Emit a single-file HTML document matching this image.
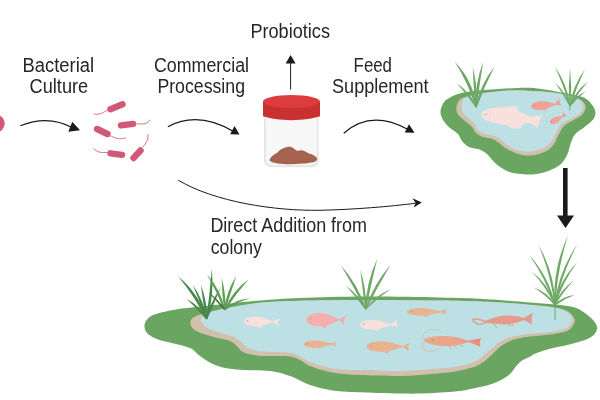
<!DOCTYPE html>
<html><head><meta charset="utf-8"><title>Probiotics</title>
<style>html,body{margin:0;padding:0;background:#fff;}svg{display:block;will-change:transform}</style></head>
<body><svg width="600" height="400" viewBox="0 0 600 400">
<path d="M440.5,111.0C440.7,108.0 442.4,104.2 444.0,102.0C445.6,99.8 447.8,98.8 450.0,97.5C452.2,96.2 454.5,95.2 457.0,94.3C459.5,93.4 461.2,92.9 465.0,92.2C468.8,91.5 475.0,90.8 480.0,90.3C485.0,89.8 487.5,89.6 495.0,89.2C502.5,88.8 517.5,87.8 525.0,87.7C532.5,87.6 534.2,88.0 540.0,88.8C545.8,89.5 553.7,91.1 559.5,92.2C565.3,93.3 570.9,94.3 575.0,95.2C579.1,96.1 581.6,96.4 584.3,97.8C587.0,99.2 589.2,101.2 591.0,103.5C592.8,105.8 594.9,108.8 595.3,111.4C595.7,114.0 595.1,116.7 593.3,119.3C591.5,121.9 587.3,124.8 584.3,127.2C581.3,129.6 577.5,131.3 575.3,133.9C573.0,136.5 572.1,139.5 570.8,142.9C569.5,146.3 569.1,150.6 567.4,154.2C565.7,157.8 563.9,161.5 560.7,164.3C557.5,167.1 553.0,169.3 548.3,171.0C543.6,172.7 538.0,174.0 532.5,174.4C527.0,174.8 519.6,173.9 515.0,173.2C510.4,172.5 508.3,171.7 505.0,170.0C501.7,168.3 498.0,165.7 495.0,163.0C492.0,160.3 489.7,156.3 487.0,154.0C484.3,151.7 482.0,150.5 479.0,149.3C476.0,148.1 471.8,148.4 469.0,147.0C466.2,145.6 463.8,143.2 462.0,141.0C460.2,138.8 460.0,136.2 458.0,134.0C456.0,131.8 452.5,130.3 450.0,128.0C447.5,125.7 444.6,122.8 443.0,120.0C441.4,117.2 440.3,114.0 440.5,111.0Z" fill="#6BA562"/>
<path d="M460.0,99.5C461.7,97.9 463.7,97.5 467.0,96.5C470.3,95.5 472.8,94.5 480.0,93.5C487.2,92.5 500.0,90.7 510.0,90.3C520.0,89.9 531.7,90.8 540.0,91.3C548.3,91.8 554.2,92.5 560.0,93.5C565.8,94.5 571.2,95.7 575.0,97.0C578.8,98.3 580.7,99.5 582.5,101.3C584.3,103.0 585.7,105.2 585.6,107.5C585.5,109.8 584.1,112.6 582.0,114.8C579.9,117.0 576.0,118.5 573.0,120.4C570.0,122.3 566.4,123.6 564.0,126.0C561.6,128.4 560.1,132.0 558.4,135.0C556.7,138.0 556.1,141.3 554.0,144.0C551.9,146.7 549.6,149.3 546.0,151.2C542.4,153.1 537.0,154.8 532.5,155.3C528.0,155.8 523.2,155.2 519.0,154.2C514.8,153.1 510.3,150.9 507.0,149.0C503.7,147.1 501.3,144.6 499.0,143.0C496.7,141.4 495.7,140.2 493.0,139.2C490.3,138.2 485.8,138.0 483.0,137.0C480.2,136.0 477.8,134.7 476.0,133.0C474.2,131.3 473.8,129.0 472.0,127.0C470.2,125.0 467.4,123.2 465.0,121.0C462.6,118.8 459.1,116.5 457.7,114.0C456.3,111.5 456.2,108.4 456.6,106.0C457.0,103.6 458.3,101.1 460.0,99.5Z" fill="#D1C0AD"/>
<path d="M464.0,98.5C465.3,97.2 467.3,97.0 470.0,96.3C472.7,95.5 473.3,95.0 480.0,94.0C486.7,93.0 500.0,91.0 510.0,90.6C520.0,90.2 531.7,91.1 540.0,91.6C548.3,92.1 554.3,92.8 560.0,93.8C565.7,94.8 570.7,96.2 574.0,97.3C577.3,98.4 578.2,98.9 579.8,100.5C581.3,102.1 583.3,104.7 583.3,106.9C583.3,109.1 581.9,111.6 579.8,113.6C577.7,115.6 573.8,117.1 570.8,118.8C567.8,120.5 564.2,121.5 561.8,123.8C559.4,126.1 557.9,129.9 556.2,132.8C554.5,135.7 553.8,138.8 551.7,141.3C549.6,143.8 547.0,146.3 543.8,148.0C540.6,149.7 536.6,150.7 532.5,151.2C528.4,151.7 523.1,151.7 519.0,150.8C514.9,149.9 511.0,147.4 508.0,145.6C505.0,143.8 503.2,141.6 501.0,140.0C498.8,138.4 497.7,137.0 495.0,136.0C492.3,135.0 487.8,135.0 485.0,134.0C482.2,133.0 479.8,131.8 478.0,130.0C476.2,128.2 475.6,125.0 474.0,123.0C472.4,121.0 470.2,119.8 468.3,118.0C466.4,116.2 463.6,114.3 462.5,112.0C461.4,109.7 461.8,106.2 462.0,104.0C462.2,101.8 462.7,99.8 464.0,98.5Z" fill="#BDE0E4"/>
<path d="M481.2,115.6 C481.5,112 485,109.5 490,108.5 C495,107.5 501,107.3 506,107.7 C511,108.2 515,109.5 518.7,111.2 C523,113 527.5,115 531.2,116.9 L543,115 Q538.8,120.6 538,127.7 L528.7,122.5 C525.5,123.5 522,124.1 518.7,124.4 C514.5,124.9 510,125.1 506,125 C502,124.8 497.5,124 493.7,123 C490.5,122 487.5,120.8 485,119.4 C483,118.2 481.3,117 481.2,115.6Z" fill="#F8E1DC"/>
<path d="M505,107.9 C507,106.8 509.5,106.3 511.2,106.2 C513.5,106 516,106.4 518,106.9 L517.7,111Z" fill="#F8E1DC"/>
<path d="M506.5,124.8 C508.5,127 510.5,128.2 512.5,128.5 C515.5,128.8 518.5,128.4 521.2,127.7 L522.4,123.8Z" fill="#F8E1DC"/>
<circle cx="486" cy="114.4" r="0.7" fill="#B07C78"/>
<path d="M489.8,108.8 Q492.3,115 488.8,121.6" stroke="#EBCDC8" stroke-width="0.5" fill="none"/>
<g transform="rotate(-5 543.3 105.4)"><path d="M531.3,105.4 C531.3,102.8 535.6,101.1 541.4,101.1 C547.1,101.2 551.7,104.1 555.3,104.7 L560.7,98.8 Q558.0,102.8 561.7,106.8 L555.3,106.1 C551.7,106.7 547.1,109.6 541.4,109.7 C535.6,109.7 531.3,108.0 531.3,105.4Z" fill="#F0A294"/><path d="M541.9,109.3 l2.9,1.7 l2.4,-2.4Z" fill="#F0A294"/><circle cx="534.4" cy="104.8" r="0.55" fill="#c07060"/></g>
<g transform="rotate(-27 556.15 119.8)"><path d="M549.4,119.8 C549.4,117.9 551.8,116.7 555.1,116.7 C558.3,116.8 560.9,118.9 562.9,119.1 L567.3,115.6 Q565.1,118.8 568.1,122.0 L562.9,120.5 C560.9,120.7 558.3,122.8 555.1,122.9 C551.8,122.9 549.4,121.7 549.4,119.8Z" fill="#F0A294"/><path d="M555.3,122.6 l1.6,1.2 l1.4,-1.7Z" fill="#F0A294"/><circle cx="551.2" cy="119.3" r="0.55" fill="#c07060"/></g>
<path d="M476.7,107.0Q473.2,80.7 454.6,61.5Q468.3,83.0 475.7,107.4Z" fill="#6EA866"/>
<path d="M476.6,106.9Q470.1,92.2 456.7,83.3Q467.3,94.5 475.8,107.5Z" fill="#6EA866"/>
<path d="M476.7,107.2Q477.9,86.7 472.7,66.9Q473.3,87.2 475.7,107.2Z" fill="#6EA866"/>
<path d="M476.7,107.3Q479.4,84.4 483.2,61.7Q474.7,83.7 475.7,107.1Z" fill="#6EA866"/>
<path d="M476.7,107.4Q484.4,86.3 494.7,66.3Q480.2,84.4 475.7,107.0Z" fill="#6EA866"/>
<path d="M570.5,105.8Q567.2,84.5 554.8,66.6Q563.8,85.8 569.5,106.2Z" fill="#6EA866"/>
<path d="M570.4,105.7Q565.4,92.4 555.0,82.6Q563.1,93.9 569.6,106.3Z" fill="#6EA866"/>
<path d="M570.5,106.0Q572.1,86.7 570.0,67.4Q567.9,86.7 569.5,106.0Z" fill="#6EA866"/>
<path d="M570.5,106.2Q576.3,87.0 585.0,69.0Q573.0,85.7 569.5,105.8Z" fill="#6EA866"/>
<path d="M570.4,106.3Q577.9,92.9 588.0,81.5Q575.4,91.1 569.6,105.7Z" fill="#6EA866"/>
<path d="M570.3,106.4Q577.2,97.8 586.0,91.3Q575.5,95.9 569.7,105.6Z" fill="#6EA866"/>
<path d="M570,104 L569.7,110.5" stroke="#6EA866" stroke-width="0.9"/>
<path d="M144.5,325.0C144.7,322.6 146.1,320.3 148.0,318.5C149.9,316.7 151.3,315.5 156.0,314.0C160.7,312.5 168.7,310.8 176.0,309.5C183.3,308.2 191.0,307.5 200.0,306.5C209.0,305.5 220.0,304.5 230.0,303.5C240.0,302.5 248.3,301.4 260.0,300.5C271.7,299.6 282.5,298.6 300.0,298.0C317.5,297.4 341.7,296.7 365.0,296.6C388.3,296.5 420.8,297.1 440.0,297.5C459.2,297.9 469.2,298.2 480.0,298.7C490.8,299.2 496.7,299.9 505.0,300.5C513.3,301.1 521.7,301.8 530.0,302.5C538.3,303.2 547.5,303.7 555.0,304.5C562.5,305.3 569.6,305.8 575.0,307.5C580.4,309.2 584.2,312.5 587.5,315.0C590.8,317.5 593.4,320.2 595.0,322.5C596.6,324.8 597.2,326.6 597.0,328.7C596.8,330.8 595.7,333.1 593.7,335.0C591.7,336.9 589.4,338.3 585.0,340.0C580.6,341.7 573.3,343.6 567.5,345.0C561.7,346.4 555.4,347.2 550.0,348.7C544.6,350.1 538.3,352.4 535.0,353.7C531.7,355.0 532.2,355.6 530.0,356.7C527.8,357.8 524.3,358.9 522.0,360.5C519.7,362.1 518.0,364.2 516.0,366.5C514.0,368.8 512.5,371.8 510.0,374.0C507.5,376.2 503.9,378.4 501.0,380.0C498.1,381.6 496.0,382.5 492.5,383.7C489.0,384.9 485.4,385.8 480.0,387.0C474.6,388.2 466.7,390.1 460.0,391.0C453.3,391.9 446.7,392.0 440.0,392.4C433.3,392.8 426.7,393.4 420.0,393.6C413.3,393.8 406.7,393.7 400.0,393.6C393.3,393.5 388.3,393.3 380.0,393.0C371.7,392.7 358.3,392.5 350.0,392.0C341.7,391.5 336.7,391.2 330.0,390.0C323.3,388.8 316.7,387.3 310.0,385.0C303.3,382.7 296.7,378.3 290.0,376.0C283.3,373.7 279.0,372.1 270.0,371.0C261.0,369.9 245.2,370.5 236.0,369.5C226.8,368.5 221.0,367.2 215.0,365.0C209.0,362.8 204.0,358.8 200.0,356.0C196.0,353.2 195.0,350.5 191.0,348.5C187.0,346.5 181.5,345.5 176.0,344.0C170.5,342.5 162.8,341.3 158.0,339.5C153.2,337.7 149.2,335.4 147.0,333.0C144.8,330.6 144.3,327.4 144.5,325.0Z" fill="#6BA562"/>
<path d="M196.5,315.8C202.1,313.4 213.4,310.9 224.0,308.7C234.6,306.5 247.3,304.1 260.0,302.8C272.7,301.5 282.5,301.3 300.0,300.8C317.5,300.3 341.7,300.0 365.0,300.0C388.3,300.0 420.8,300.3 440.0,300.6C459.2,300.9 469.2,301.2 480.0,301.6C490.8,302.0 496.7,302.3 505.0,302.9C513.3,303.4 521.7,304.1 530.0,304.9C538.3,305.7 548.7,306.5 555.0,307.6C561.3,308.7 564.9,309.9 568.0,311.5C571.1,313.1 572.6,315.7 573.7,317.5C574.8,319.3 575.3,320.4 574.5,322.5C573.7,324.6 572.0,328.1 568.7,330.0C565.5,331.9 561.5,332.6 555.0,333.7C548.5,334.8 535.5,335.8 530.0,336.5C524.5,337.2 524.8,337.1 522.0,337.7C519.2,338.2 516.0,338.8 513.0,339.8C510.0,340.9 506.8,342.3 504.0,344.0C501.2,345.7 499.0,347.8 496.5,350.0C494.0,352.2 492.0,355.0 489.0,357.5C486.0,360.0 482.5,363.0 478.5,365.0C474.5,367.0 469.8,368.3 465.0,369.5C460.2,370.7 454.2,371.7 450.0,372.3C445.8,372.9 445.0,372.8 440.0,373.2C435.0,373.6 426.7,374.5 420.0,375.0C413.3,375.5 406.7,375.9 400.0,376.0C393.3,376.1 388.3,375.9 380.0,375.6C371.7,375.3 358.3,375.0 350.0,374.4C341.7,373.8 336.7,373.4 330.0,372.0C323.3,370.6 315.0,368.0 310.0,366.0C305.0,364.0 303.3,361.6 300.0,360.0C296.7,358.4 295.0,357.1 290.0,356.4C285.0,355.7 275.5,356.1 270.0,356.0C264.5,355.9 261.5,356.2 257.0,355.5C252.5,354.8 246.5,353.8 243.0,352.0C239.5,350.2 238.4,346.9 236.0,345.0C233.6,343.1 232.5,341.9 228.5,340.5C224.5,339.1 217.5,338.2 212.0,336.5C206.5,334.8 199.1,332.8 195.5,330.5C191.9,328.2 190.3,325.4 190.5,323.0C190.7,320.6 190.9,318.2 196.5,315.8Z" fill="#D1C0AD"/>
<path d="M202.0,316.5C205.2,313.6 214.3,310.9 224.0,308.6C233.7,306.3 247.3,304.0 260.0,302.7C272.7,301.4 282.5,301.2 300.0,300.7C317.5,300.2 341.7,299.9 365.0,299.9C388.3,299.9 420.8,300.2 440.0,300.5C459.2,300.8 469.2,301.1 480.0,301.5C490.8,301.9 496.7,302.2 505.0,302.8C513.3,303.4 521.7,304.0 530.0,304.8C538.3,305.6 548.8,306.4 555.0,307.7C561.2,309.0 564.7,310.4 567.5,312.5C570.3,314.6 572.0,317.5 572.0,320.0C572.0,322.5 570.3,325.6 567.5,327.5C564.7,329.4 561.2,330.1 555.0,331.2C548.8,332.2 535.5,333.2 530.0,333.8C524.5,334.4 525.3,334.1 522.0,334.7C518.7,335.3 513.5,336.1 510.0,337.2C506.5,338.2 503.8,339.4 501.0,341.0C498.2,342.6 496.0,344.9 493.5,347.0C491.0,349.1 488.8,351.4 486.0,353.7C483.2,355.9 480.5,358.6 477.0,360.5C473.5,362.4 469.5,363.8 465.0,365.0C460.5,366.2 454.2,366.9 450.0,367.5C445.8,368.1 445.0,368.1 440.0,368.5C435.0,368.9 426.7,369.6 420.0,370.0C413.3,370.4 406.7,370.9 400.0,371.0C393.3,371.1 388.3,370.6 380.0,370.4C371.7,370.2 358.3,370.4 350.0,370.0C341.7,369.6 336.7,369.3 330.0,368.0C323.3,366.7 315.0,363.9 310.0,362.0C305.0,360.1 303.3,358.0 300.0,356.5C296.7,355.0 295.0,353.8 290.0,353.0C285.0,352.2 275.3,352.3 270.0,352.0C264.7,351.7 261.8,351.8 258.0,351.0C254.2,350.2 250.0,349.2 247.0,347.5C244.0,345.8 242.3,342.8 240.0,341.0C237.7,339.2 236.7,338.0 233.0,336.5C229.3,335.0 222.8,333.8 218.0,332.0C213.2,330.2 207.2,328.6 204.5,326.0C201.8,323.4 198.8,319.4 202.0,316.5Z" fill="#BDE0E4"/>
<g><path d="M244.0,321.6 C244.0,318.6 249.2,316.6 256.2,316.6 C263.1,316.8 268.6,320.1 273.0,320.9 L280.4,318.4 Q276.3,322.7 279.6,327.0 L273.0,322.3 C268.6,323.1 263.1,326.5 256.2,326.6 C249.2,326.6 244.0,324.6 244.0,321.6Z" fill="#F8E1DC"/><path d="M256.8,326.1 l3.5,2.0 l2.9,-2.8Z" fill="#F8E1DC"/><circle cx="247.8" cy="320.9" r="0.55" fill="#9a6a5a"/></g>
<g><path d="M306.4,319.8 C306.4,315.8 312.3,313.1 320.3,313.1 C328.2,313.3 334.4,317.8 339.4,319.1 L347.0,315.2 Q342.1,320.7 344.8,326.2 L339.4,320.5 C334.4,321.8 328.2,326.3 320.3,326.5 C312.3,326.5 306.4,323.8 306.4,319.8Z" fill="#F5AFAD"/><path d="M320.9,325.8 l4.0,2.7 l3.3,-3.7Z" fill="#F5AFAD"/><circle cx="310.7" cy="318.8" r="0.55" fill="#9a6a5a"/></g>
<g><path d="M360.0,324.8 C360.0,322.0 365.6,320.1 373.0,320.1 C380.5,320.2 386.4,323.4 391.0,324.1 L398.0,318.8 Q394.5,322.9 398.6,327.0 L391.0,325.5 C386.4,326.2 380.5,329.4 373.0,329.5 C365.6,329.5 360.0,327.6 360.0,324.8Z" fill="#F8E1DC"/><path d="M373.6,329.0 l3.7,1.9 l3.1,-2.6Z" fill="#F8E1DC"/><circle cx="364.0" cy="324.1" r="0.55" fill="#9a6a5a"/></g>
<g><path d="M407.0,311.8 C407.0,309.5 413.1,307.9 421.2,307.9 C429.3,308.0 435.7,310.6 440.8,311.1 L447.6,308.4 Q443.8,311.5 446.8,314.6 L440.8,312.5 C435.7,313.0 429.3,315.6 421.2,315.7 C413.1,315.7 407.0,314.1 407.0,311.8Z" fill="#E8B391"/><path d="M421.9,315.3 l4.1,1.6 l3.4,-2.1Z" fill="#E8B391"/><circle cx="411.4" cy="311.2" r="0.55" fill="#9a6a5a"/></g>
<g><path d="M303.6,344.2 C303.6,342.0 308.8,340.6 315.8,340.6 C322.7,340.7 328.2,343.1 332.6,343.5 L336.6,340.8 Q334.3,343.6 336.0,346.4 L332.6,344.9 C328.2,345.3 322.7,347.7 315.8,347.8 C308.8,347.8 303.6,346.4 303.6,344.2Z" fill="#E8B391"/><path d="M316.4,347.4 l3.5,1.4 l2.9,-2.0Z" fill="#E8B391"/><circle cx="307.4" cy="343.7" r="0.55" fill="#9a6a5a"/></g>
<g><path d="M366.4,346.6 C366.4,343.4 373.0,341.3 381.9,341.3 C390.7,341.5 397.7,345.0 403.2,345.9 L410.8,342.2 Q406.2,346.7 409.2,351.2 L403.2,347.3 C397.7,348.2 390.7,351.7 381.9,351.9 C373.0,351.9 366.4,349.8 366.4,346.6Z" fill="#E8B391"/><path d="M382.6,351.4 l4.4,2.1 l3.7,-2.9Z" fill="#E8B391"/><circle cx="371.2" cy="345.8" r="0.55" fill="#9a6a5a"/></g>
<defs><linearGradient id="shg" x1="423" y1="0" x2="481" y2="0" gradientUnits="userSpaceOnUse"><stop offset="0" stop-color="#E9A88C"/><stop offset="0.7" stop-color="#E9A489"/><stop offset="1" stop-color="#E5897A"/></linearGradient></defs>
<path d="M423.3,339.6 C425,338.3 428,337.5 431,337 C436,336.2 441,335.9 444.5,336 C450,336.2 454,336.5 458,337.5 C462,338.5 465.5,339.8 468.5,340.5 L481.3,338.2 Q478.5,342.5 480.6,346.8 L468.5,342.1 C465,343.5 460,344.8 455,345.4 C450,346 446,346.2 441.7,346 C437,345.7 432,344.6 428.3,343.3 C425.5,342.3 423.8,341 423.3,339.6Z" fill="url(#shg)"/>
<path d="M449,345.5 L451.3,349.3 M454.3,345.3 L457.4,348.7 M459,344.5 L463,346.7" stroke="#E9A68A" stroke-width="1" fill="none"/>
<path d="M423.6,339.2 C422,334 425.5,330 430,329.6 C435,329.2 440,330.5 442.4,332.8" stroke="#E9A68A" stroke-width="0.45" fill="none"/>
<path d="M423.3,342 C420,344.5 421.5,349 425,350.5 C430,352.3 437,351.5 442.4,346.6" stroke="#E9A68A" stroke-width="0.45" fill="none"/>
<path d="M424.3,342.6 C422.5,346 424,349.5 427,350.6" stroke="#E9A68A" stroke-width="0.4" fill="none"/>
<circle cx="432.3" cy="340.3" r="0.6" fill="#A8604E"/>
<path d="M438.5,337.3 Q440.6,340.5 438.8,344.6" stroke="#DD927A" stroke-width="0.4" fill="none"/>
<path d="M485,321.3 C490,319.5 497,316 505,315.6 C512,315.2 519,316.3 523.7,318 L533,312.7 Q530.5,318.5 532.3,324.4 L523.7,320 C519,322.5 512,324.5 505,324.4 C497,324.3 490,323.5 485,322.6Z" fill="#E49B8B"/>
<path d="M486,321.5 C482,319.8 478,318.6 474.5,319 C472,319.3 472,321 474,321.6 M486,322.3 C483.5,323.5 481,324.6 478.5,324.3 C476,324 475,322.5 474.5,321.6" stroke="#E49B8B" stroke-width="1.4" fill="none" stroke-linecap="round"/>
<path d="M493.7,324 L497,328 M509,324 L510.3,326.7 M511.7,324 L513.3,326.4" stroke="#E49B8B" stroke-width="1" fill="none"/>
<path d="M207.1,318.7Q198.7,293.6 178.3,276.6Q194.5,296.4 206.3,319.3Z" fill="#47874A"/>
<path d="M207.1,318.6Q199.3,306.0 186.3,298.6Q196.8,308.5 206.3,319.4Z" fill="#47874A"/>
<path d="M207.2,318.8Q203.5,300.3 192.7,284.8Q199.9,301.8 206.2,319.2Z" fill="#47874A"/>
<path d="M207.2,318.9Q207.0,301.3 201.0,284.7Q202.7,302.0 206.2,319.1Z" fill="#47874A"/>
<path d="M207.2,319.1Q214.5,294.5 211.8,268.9Q209.9,294.0 206.2,318.9Z" fill="#47874A"/>
<path d="M207.2,319.2Q214.0,303.5 220.7,287.8Q210.4,301.9 206.2,318.8Z" fill="#47874A"/>
<path d="M225.1,309.5Q220.6,289.6 206.9,274.3Q216.5,291.7 224.3,309.9Z" fill="#5E9E58"/>
<path d="M225.2,309.7Q226.2,293.5 221.6,277.9Q221.9,293.9 224.2,309.7Z" fill="#5E9E58"/>
<path d="M225.2,309.9Q230.8,292.8 236.4,275.8Q226.4,291.3 224.2,309.5Z" fill="#5E9E58"/>
<path d="M225.1,310.0Q236.2,293.9 248.8,279.0Q232.5,291.0 224.3,309.4Z" fill="#5E9E58"/>
<path d="M224.9,310.2Q236.7,301.7 250.7,298.2Q235.4,298.7 224.5,309.2Z" fill="#5E9E58"/>
<path d="M225.1,309.4Q218.6,299.4 208.8,292.5Q216.5,301.4 224.3,310.0Z" fill="#3C6E3A"/>
<path d="M366.1,309.0Q357.8,284.5 340.7,265.1Q353.7,286.8 365.3,309.4Z" fill="#6EA866"/>
<path d="M366.1,308.9Q358.8,294.9 345.9,285.7Q356.3,297.0 365.3,309.5Z" fill="#6EA866"/>
<path d="M366.2,309.1Q366.5,289.0 360.3,269.7Q362.6,289.5 365.2,309.3Z" fill="#6EA866"/>
<path d="M366.2,309.3Q371.0,283.7 377.3,258.4Q366.1,282.6 365.2,309.1Z" fill="#6EA866"/>
<path d="M366.1,309.4Q377.7,286.6 390.8,264.6Q373.6,284.3 365.3,309.0Z" fill="#6EA866"/>
<path d="M366.0,309.6Q377.5,297.9 391.2,288.9Q375.5,295.3 365.4,308.8Z" fill="#6EA866"/>
<path d="M555.4,304.8Q548.6,276.5 529.2,254.7Q545.4,278.2 554.6,305.2Z" fill="#6EA866"/>
<path d="M555.5,304.9Q554.5,272.8 538.5,244.9Q550.7,273.9 554.5,305.1Z" fill="#6EA866"/>
<path d="M555.5,305.1Q557.1,269.1 568.2,235.0Q552.5,268.3 554.5,304.9Z" fill="#6EA866"/>
<path d="M555.5,305.2Q562.1,273.0 577.4,244.1Q558.4,271.7 554.5,304.8Z" fill="#6EA866"/>
<path d="M555.4,305.2Q562.6,282.0 577.0,262.5Q559.4,280.4 554.6,304.8Z" fill="#6EA866"/>
<path d="M555.4,304.7Q548.7,284.6 531.8,271.6Q545.8,286.6 554.6,305.3Z" fill="#6EA866"/>
<path d="M555.3,304.6Q547.6,291.9 533.3,287.2Q545.5,294.4 554.7,305.4Z" fill="#6EA866"/>
<path d="M555.4,305.3Q563.0,291.4 574.2,280.3Q560.5,289.4 554.6,304.7Z" fill="#6EA866"/>
<path d="M555.2,305.4Q564.1,298.8 574.6,295.1Q562.8,296.2 554.8,304.6Z" fill="#6EA866"/>
<path d="M555,300 L555,320" stroke="#6EA866" stroke-width="1"/>
<circle cx="-4.1" cy="123.5" r="8.8" fill="#D15876"/>
<path d="M110.5,109.2L122.5,104.3" stroke="#D15876" stroke-width="6.4" stroke-linecap="round" fill="none"/>
<path d="M121.0,125.4L133.0,123.9" stroke="#D15876" stroke-width="6.4" stroke-linecap="round" fill="none"/>
<path d="M97.0,129.0L107.5,134.0" stroke="#D15876" stroke-width="6.4" stroke-linecap="round" fill="none"/>
<path d="M110.5,153.3L122.0,154.9" stroke="#D15876" stroke-width="6.4" stroke-linecap="round" fill="none"/>
<path d="M133.5,158.0L140.5,150.5" stroke="#D15876" stroke-width="6.4" stroke-linecap="round" fill="none"/>
<path d="M107,110.5 C103,112 100,115.5 94,114" stroke="#D15876" stroke-width="0.85" fill="none" stroke-linecap="round"/>
<path d="M136.5,124 C141,123 146,126 150,120" stroke="#D15876" stroke-width="0.85" fill="none" stroke-linecap="round"/>
<path d="M111,136 C115,138 119,140 125.5,138" stroke="#D15876" stroke-width="0.85" fill="none" stroke-linecap="round"/>
<path d="M107,152.5 C102,152.5 98,153 94,149" stroke="#D15876" stroke-width="0.85" fill="none" stroke-linecap="round"/>
<path d="M143,147 C146,143 148.5,140 148,134.5" stroke="#D15876" stroke-width="0.85" fill="none" stroke-linecap="round"/>
<path d="M20.3,125.7 Q48.5,114.3 73,128" stroke="#1a1a1a" stroke-width="1.2" fill="none"/><path d="M72.3,121.7 L80,130.3 L68.3,131.7Z" fill="#1a1a1a"/>
<path d="M167.8,126.7 Q198,110.5 233.5,131.5" stroke="#1a1a1a" stroke-width="1.2" fill="none"/><path d="M234.5,126 L239.5,134.5 L230.2,134.2Z" fill="#1a1a1a"/>
<path d="M343.7,133.2 Q371,109 408,129.5" stroke="#1a1a1a" stroke-width="1.2" fill="none"/><path d="M409,124.2 L414.5,132.7 L404.7,132.4Z" fill="#1a1a1a"/>
<path d="M178.2,180.2 C215,202 275,211 320,210.3 C355,209.5 390,206.5 415,203.3" stroke="#1a1a1a" stroke-width="1.0" fill="none"/><path d="M412.5,198.2 L421.8,202.6 L413.7,207.5 L415.5,203Z" fill="#1a1a1a"/>
<path d="M290.6,62 L290.6,89.5" stroke="#1a1a1a" stroke-width="1"/><path d="M290.6,55 L295.6,63.6 L285.6,63.6Z" fill="#1a1a1a"/>
<path d="M563,168 H567.6 V215.5 H574 L565.5,228 L557,215.5 H563Z" fill="#1a1a1a"/>
<path d="M264,108 H318.6 V160 Q318.6,167.3 311,167.3 H271.6 Q264,167.3 264,160Z" fill="#E5E5E5"/>
<path d="M265.8,112 H316.8 V159.5 Q316.8,165.2 310.5,165.2 H272.1 Q265.8,165.2 265.8,159.5Z" fill="#F7F7F7"/>
<path d="M270,127.5 V152.5" stroke="#ffffff" stroke-width="1.2" stroke-linecap="round"/>
<path d="M269.6,159.5 C271,156.5 274.5,154.5 277.5,152.6 C279.5,150 282,148.5 284.3,148 C286.5,146.8 289,146.6 291,147 C293.5,147.5 295.5,150.5 297.8,151 C299.5,150.2 301.5,150 303.4,150.7 C305.5,151.3 307,152.8 309,153.4 C311.5,154 314,155.3 315.8,156.8 C317.3,158 317.5,159.5 316.5,160.5 C315,162 313,162.4 311.3,162.6 C307.5,163.5 304,163.7 300,163.8 C296,164.2 292.5,164.3 288.8,164.2 C285,164.2 281,163.9 277.5,163.4 C275,163 272.5,162.5 270.8,161.5 C269.8,160.9 269.3,160.2 269.6,159.5Z" fill="#A5624F"/>
<path d="M263,101.8 V116.3 C270,118.6 280,120.2 291.4,120.2 C303,120.2 313,118.6 320,116.3 V101.8Z" fill="#C93131"/>
<ellipse cx="291.5" cy="101.6" rx="28.5" ry="6.5" fill="#DC3C3C"/>
<g font-family="'Liberation Sans', Arial, sans-serif" font-size="19.6" fill="#262626">
<text x="22.6" y="71.5" textLength="71.5" lengthAdjust="spacingAndGlyphs" text-anchor="start">Bacterial</text>
<text x="29.6" y="92.5" textLength="58.6" lengthAdjust="spacingAndGlyphs" text-anchor="start">Culture</text>
<text x="154.0" y="71.5" textLength="95.0" lengthAdjust="spacingAndGlyphs" text-anchor="start">Commercial</text>
<text x="157.4" y="92.5" textLength="87.6" lengthAdjust="spacingAndGlyphs" text-anchor="start">Processing</text>
<text x="250.4" y="37.8" textLength="79.6" lengthAdjust="spacingAndGlyphs" text-anchor="start">Probiotics</text>
<text x="353.6" y="71.5" textLength="38.4" lengthAdjust="spacingAndGlyphs" text-anchor="start">Feed</text>
<text x="332.0" y="92.5" textLength="96.6" lengthAdjust="spacingAndGlyphs" text-anchor="start">Supplement</text>
<text x="210.4" y="232.0" textLength="156.6" lengthAdjust="spacingAndGlyphs" text-anchor="start">Direct Addition from</text>
<text x="210.8" y="253.7" textLength="51.0" lengthAdjust="spacingAndGlyphs" text-anchor="start">colony</text>
</g>
</svg></body></html>
